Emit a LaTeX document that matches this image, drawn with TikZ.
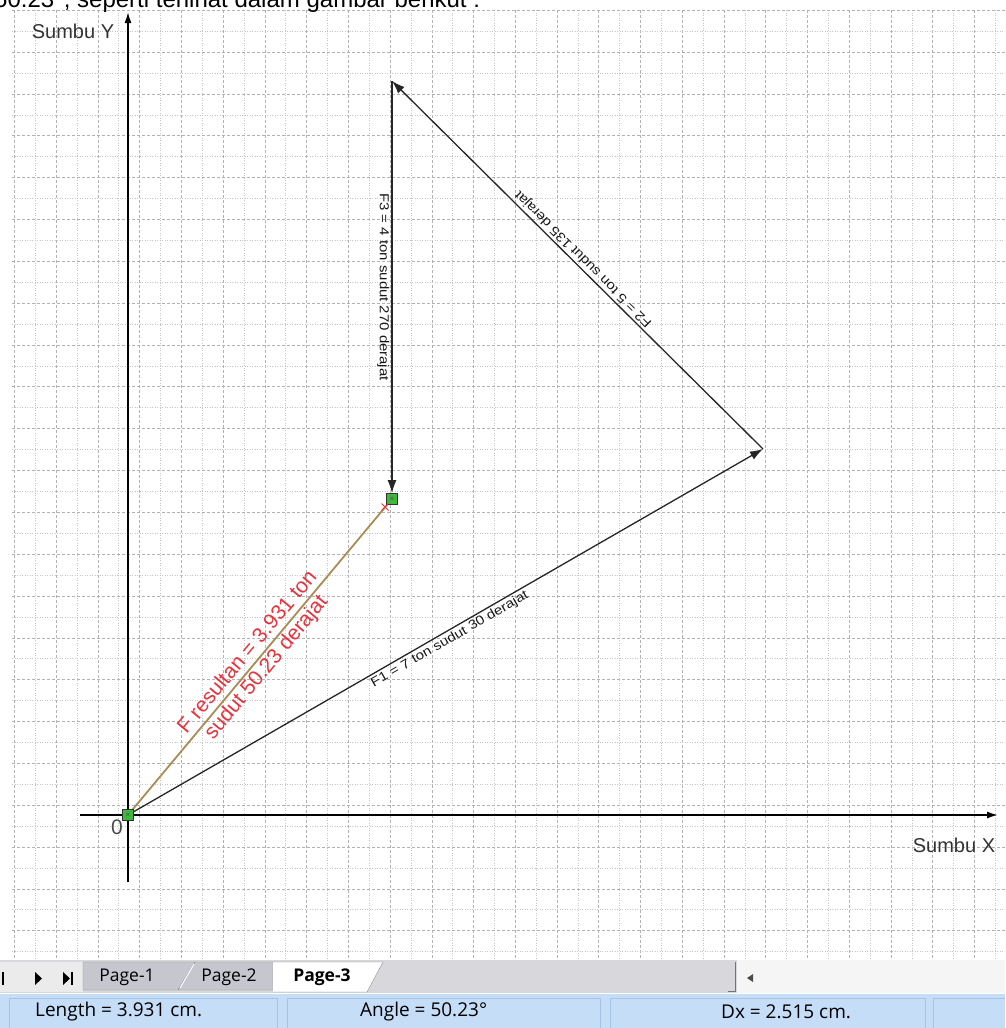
\documentclass[tikz,border=0pt]{standalone}
\usepackage{fontspec}
\setmainfont{Liberation Sans}
\newfontfamily\uifont{Open Sans}
\usepackage{graphicx}
\usetikzlibrary{arrows.meta,shapes.misc,positioning}

\definecolor{gridgray}{RGB}{178,178,178}
\definecolor{resline}{RGB}{170,140,85}
\definecolor{restext}{RGB}{232,50,60}
\definecolor{markgreen}{RGB}{60,185,60}
\definecolor{tabgray}{RGB}{198,198,206}
\definecolor{tabbg}{RGB}{216,216,220}
\definecolor{barblue}{RGB}{198,221,247}
\definecolor{barline}{RGB}{165,195,232}

\newcommand{\fsz}[1]{\fontsize{#1}{#1}\selectfont}
\newcommand{\flab}[1]{\scalebox{1.15}[1]{\fsz{13}#1}}

\begin{document}
\begin{tikzpicture}[x=1pt, y=-1pt,
    every node/.style={inner sep=0pt},
    gridmajor/.style={gridgray, line width=0.6pt, dash pattern=on 3pt off 2pt},
    gridminor/.style={gridgray!75, line width=0.6pt, dash pattern=on 1pt off 1.5pt},
    axis/.style={black, line width=1.6pt, -{Latex[length=11pt,width=7pt]}},
    force/.style={black!85, line width=1.3pt, -{Latex[length=13pt,width=9pt]}},
    flabel/.style={text=black!90, inner sep=2pt},
    marker/.style={draw=black!80, fill=markgreen, minimum size=11pt, line width=0.8pt}]
        \useasboundingbox (0,0) rectangle (1005,1028);
        \clip (0,0) rectangle (1005,1028);
        \fill[white] (0,0) rectangle (1005,1028);

        % Grid
        \foreach \i in {0,2,...,46}
            \draw[gridmajor] ({14.4+20.87*\i},10) -- ({14.4+20.87*\i},960);
        \foreach \i in {1,3,...,47}
            \draw[gridminor] ({14.4+20.87*\i},10) -- ({14.4+20.87*\i},960);
        \foreach \j in {0,2,...,44}
            \draw[gridmajor] (12,{10.2+20.92*\j}) -- (1005,{10.2+20.92*\j});
        \foreach \j in {1,3,...,45}
            \draw[gridminor] (12,{10.2+20.92*\j}) -- (1005,{10.2+20.92*\j});

        \node[anchor=base west, font=\fsz{24}] (intro) at (-6,7) {50.23°, seperti terlihat dalam gambar berikut :};

        % Axes
        \coordinate (O) at (128,815);
        \coordinate (ybot) at (128,882);
        \coordinate (ytop) at (128,12);
        \coordinate (xl) at (80,815);
        \coordinate (xr) at (998,815);
        \draw[axis] (ybot) -- (ytop);
        \draw[axis] (xl) -- (xr);
        \node[font=\fsz{20}, text=black!80] (ylab) at (73,31) {Sumbu Y};
        \node[font=\fsz{20}, text=black!80] (xlab) at (954,845) {Sumbu X};
        \node[font=\fsz{21}, text=black!70] (zero) at (117,827) {0};

        % Forces
        \coordinate (A) at (763,449);
        \coordinate (B) at (392,81);
        \coordinate (Rc) at (392,499);
        \draw[resline, line width=1.8pt] (O) -- (Rc)
            node[pos=0.49, rotate=50.23, align=center, text=restext,
                 font=\fontsize{21}{24.4}\selectfont] (rlab) {F resultan = 3.931 ton\\sudut 50.23 derajat};
        \draw[force] (O) -- (A) node[midway, rotate=30, anchor=north, flabel] (f1lab) {\flab{F1 = 7 ton sudut 30 derajat}};
        \draw[force] (A) -- (B) node[midway, rotate=135, anchor=north, flabel] (f2lab) {\flab{F2 = 5 ton sudut 135 derajat}};
        \node[marker] (R) at (Rc) {\fsz{8}\textcolor{black!70}{×}};
        \draw[force] (B) -- (R.north) node[midway, rotate=-90, anchor=north, flabel] (f3lab) {\flab{F3 = 4 ton sudut 270 derajat}};
        \node[cross out, draw=restext, minimum size=6pt, line width=1pt] (rx) at (385,507) {};
        \node[marker] (Om) at (O) {\fsz{8}\textcolor{black!70}{×}};

        % Page tabs
        \fill[tabbg] (0,960) rectangle (737,993);
        \fill[black!4] (737,960) rectangle (1005,993);
        \fill[black!8] (0,962) rectangle (83,992);
        \fill (2,972) rectangle (4,985);
        \fill (35,972) -- (42,978.5) -- (35,985) -- cycle;
        \fill (63,972) -- (70,978.5) -- (63,985) -- cycle;
        \fill (71,972) rectangle (73,985);
        \filldraw[fill=tabgray, draw=black!45] (83,962) -- (195,962) -- (178,990) -- (83,990) -- cycle;
        \filldraw[fill=tabgray, draw=black!45] (195,962) -- (273,962) -- (273,990) -- (178,990) -- cycle;
        \draw[white, line width=1pt] (180,988) -- (194,964);
        \filldraw[fill=white, draw=black!45] (273,962) -- (383,962) -- (367,992) -- (273,992);
        \node[font=\uifont\fsz{17.5}] (p1) at (127,977) {Page-1};
        \node[font=\uifont\fsz{17.5}] (p2) at (229,977) {Page-2};
        \node[font=\uifont\bfseries\fsz{17.5}] (p3) at (322,977) {Page-3};
        \draw[black!55, line width=1pt] (735,962) -- (735,991) -- (728,991);
        \fill[black!70] (753,974) -- (753,982) -- (747,978) -- cycle;

        % Status bar
        \fill[barblue] (0,993) rectangle (1005,1028);
        \draw[white] (0,993.5) -- (1005,993.5);
        \draw[barline] (9,998) rectangle (277,1030);
        \draw[barline] (287,998) rectangle (600,1030);
        \draw[barline] (610,998) rectangle (925,1030);
        \draw[barline] (933,998) rectangle (1010,1030);
        \node[anchor=west, font=\uifont\fsz{19}] (len) at (35,1012) {Length = 3.931 cm.};
        \node[anchor=west, font=\uifont\fsz{19}] (ang) at (360,1012) {Angle = 50.23°};
        \node[anchor=west, font=\uifont\fsz{19}] (dx) at (721,1012) {Dx = 2.515 cm.};
\end{tikzpicture}
\end{document}
